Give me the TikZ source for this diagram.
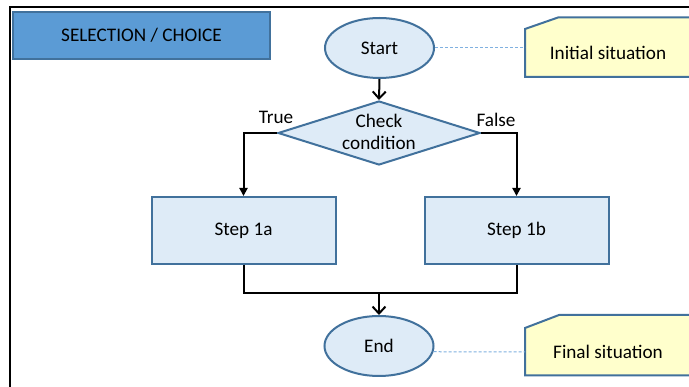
\documentclass[tikz,border=0pt]{standalone}
\usepackage{fontspec}
\setmainfont{Carlito}
\usetikzlibrary{shapes.geometric,arrows.meta}
\definecolor{edgeblue}{HTML}{41719C}
\definecolor{paleblue}{HTML}{DEEBF7}
\definecolor{headblue}{HTML}{5B9BD5}
\definecolor{noteyellow}{HTML}{FFFFCC}
\definecolor{dashblue}{HTML}{7FB0E0}
\tikzset{
  base/.style={draw=edgeblue, line width=2pt, fill=paleblue, inner sep=0pt,
    font=\fontsize{19.2}{22.5}\selectfont},
  terminal/.style={base, ellipse, minimum width=109pt, minimum height=60pt},
  decision/.style={base, diamond, minimum width=202pt, minimum height=64pt},
  stepbox/.style={base, rectangle, minimum width=184pt, minimum height=67pt},
  txt/.style={inner sep=0pt, font=\fontsize{19.2}{22.5}\selectfont},
  flow/.style={line width=2pt, black},
  barb/.style={-{Straight Barb[length=7pt,width=13pt,line width=2pt]}},
  tri/.style={-{Triangle[length=8pt,width=8pt]}},
  note/.style={draw=edgeblue, line width=2pt, fill=noteyellow},
  link/.style={draw=dashblue, line width=1pt, dash pattern=on 3pt off 2pt}
}
\begin{document}
\begin{tikzpicture}[x=1pt, y=-1pt]
  \useasboundingbox (0,0) rectangle (689,387);
  \clip (0,0) rectangle (689,387);
  \fill[white] (0,0) rectangle (689,387);

  % outer frame (top and left edges)
  \draw[line width=2.5pt, black] (689,7) -- (10,7) -- (10,392);

  % heading box
  \node[draw=edgeblue, line width=1.5pt, fill=headblue, minimum width=257pt,
        minimum height=47pt, inner sep=0pt,
        font=\fontsize{19.2}{22.5}\selectfont] (title) at (141.5,35.5) {SELECTION / CHOICE};

  % flowchart nodes
  \node[terminal] (start) at (379.5,48) {Start};
  \node[decision] (chk) at (379,133) {};
  \node[txt, align=center] (chktxt) at (379,132) {Check\\condition};
  \node[stepbox] (s1a) at (243.5,230.5) {Step 1a};
  \node[stepbox] (s1b) at (516.5,230.5) {Step 1b};
  \node[terminal] (end) at (379,346) {End};

  % branch labels
  \node[txt] (lbtrue) at (276,117) {True};
  \node[txt] (lbfalse) at (496,120) {False};

  % connectors
  \coordinate (join) at (379,293.5);
  \draw[flow, barb] (start.south) -- (chk.north);
  \draw[flow, tri] (chk.west) -| (s1a.north);
  \draw[flow, tri] (chk.east) -| (s1b.north);
  \draw[flow] (s1a.south) |- (join);
  \draw[flow] (s1b.south) |- (join);
  \draw[flow, barb] (join) -- (end.north);

  % annotation notes with cut corner
  \draw[note] (525,29) -- (558,17.5) -- (700,17.5) -- (700,77) -- (525,77) -- cycle;
  \coordinate (initL) at (525,48);
  \node[txt] (init) at (608,53) {Initial situation};

  \draw[note] (525,328) -- (559,315) -- (700,315) -- (700,375.5) -- (525,375.5) -- cycle;
  \coordinate (finL) at (525,352);
  \node[txt] (fin) at (608,352) {Final situation};

  % dashed links to notes
  \draw[link] (start.east) -- (initL);
  \draw[link] (end.-6.5) -- (finL);
\end{tikzpicture}
\end{document}
